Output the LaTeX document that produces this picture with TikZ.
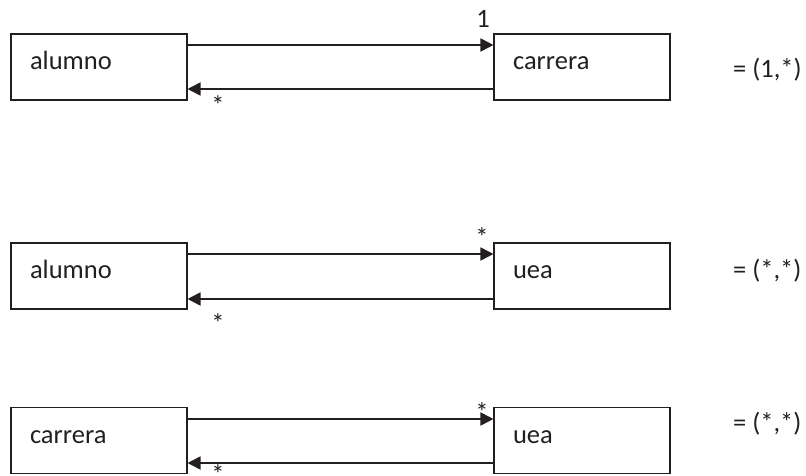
\documentclass[tikz,border=0pt]{standalone}
\usepackage{fontspec}
\setmainfont{Carlito}
\usetikzlibrary{arrows.meta}
\definecolor{ink}{HTML}{231F20}
\tikzset{
  entity/.style={draw=ink, line width=1.1pt, rectangle, minimum width=176pt,
    minimum height=66pt, inner xsep=19pt, inner ysep=0pt, text width=138pt,
    align=left, text height=19pt, text depth=14pt, font=\fontsize{26.5}{30}\selectfont,
    text=ink},
  link/.style={draw=ink, line width=1.8pt, -{Triangle[length=13pt,width=13pt]}},
  mult/.style={inner sep=0pt, anchor=north, text=ink, font=\fontsize{26.5}{30}\selectfont},
  card/.style={inner sep=0pt, anchor=west, text=ink, font=\fontsize{26.5}{30}\selectfont},
}
\begin{document}
\begin{tikzpicture}[x=1pt, y=-1pt]
  \useasboundingbox (0,0) rectangle (806,476);

  % alumno -- carrera
  \node[entity] (al1) at (99,67) {alumno};
  \node[entity] (ca1) at (582,67) {carrera};
  \coordinate (al1t) at (al1.east |- 0,45);
  \coordinate (ca1t) at (ca1.west |- 0,45);
  \coordinate (al1b) at (al1.east |- 0,89);
  \coordinate (ca1b) at (ca1.west |- 0,89);
  \draw[link] (al1t) -- (ca1t);
  \draw[link] (ca1b) -- (al1b);
  \node[mult] (m1a) at (483,10) {1};
  \node[mult] (m1b) at (218,95) {*};
  \node[card] (r1) at (733,70) {= (1,*)};

  % alumno -- uea
  \node[entity] (al2) at (99,276) {alumno};
  \node[entity] (ue2) at (582,276) {uea};
  \coordinate (al2t) at (al2.east |- 0,254);
  \coordinate (ue2t) at (ue2.west |- 0,254);
  \coordinate (al2b) at (al2.east |- 0,299);
  \coordinate (ue2b) at (ue2.west |- 0,299);
  \draw[link] (al2t) -- (ue2t);
  \draw[link] (ue2b) -- (al2b);
  \node[mult] (m2a) at (482,227) {*};
  \node[mult] (m2b) at (218,313) {*};
  \node[card] (r2) at (733,271) {= (*,*)};

  % carrera -- uea
  \node[entity] (ca3) at (99,440.5) {carrera};
  \node[entity] (ue3) at (582,440.5) {uea};
  \coordinate (ca3t) at (ca3.east |- 0,419);
  \coordinate (ue3t) at (ue3.west |- 0,419);
  \coordinate (ca3b) at (ca3.east |- 0,463);
  \coordinate (ue3b) at (ue3.west |- 0,463);
  \draw[link] (ca3t) -- (ue3t);
  \draw[link] (ue3b) -- (ca3b);
  \node[mult] (m3a) at (482,402) {*};
  \node[mult] (m3b) at (218,464) {*};
  \node[card] (r3) at (733,424) {= (*,*)};
\end{tikzpicture}
\end{document}
